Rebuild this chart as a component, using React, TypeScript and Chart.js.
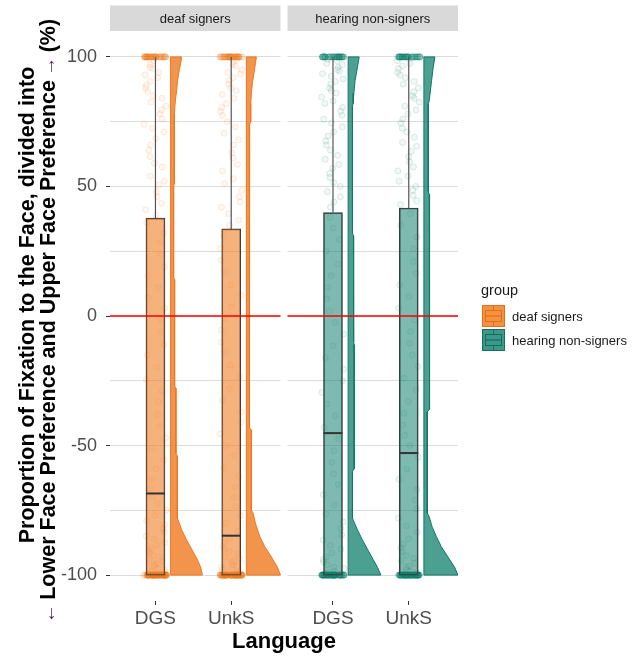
import React, { useEffect, useRef } from 'react';
import { Chart, registerables } from 'chart.js';

Chart.register(...registerables);

// ---------------- data ----------------
const GROUPS = ['deaf signers', 'hearing non-signers'];
const LANGUAGES = ['DGS', 'UnkS'];
const Y_MAJOR = [-100, -50, 0, 50, 100];
const Y_GRID = [-100, -75, -50, -25, 0, 25, 50, 75, 100];
const REF_LINE = 0;

// boxplot stats: [lower whisker, q1, median, q3, upper whisker]
const BOX_DEAF_DGS = [-100, -100, -68.5, 37.8, 100];
const BOX_DEAF_UNKS = [-100, -100, -84.8, 33.6, 100];
const BOX_HEAR_DGS = [-100, -100, -45.2, 39.9, 100];
const BOX_HEAR_UNKS = [-100, -100, -52.9, 41.7, 100];

// number of observations exactly at the ceiling (100) and floor (-100)
const CEIL_DEAF_DGS = 60;
const FLOOR_DEAF_DGS = 130;
const CEIL_DEAF_UNKS = 60;
const FLOOR_DEAF_UNKS = 135;
const CEIL_HEAR_DGS = 64;
const FLOOR_HEAR_DGS = 120;
const CEIL_HEAR_UNKS = 64;
const FLOOR_HEAR_UNKS = 125;

// observations strictly between the floor and the ceiling
const PTS_DEAF_DGS = [
  98.5, 97, 96, 95.5, 94, 93, 92, 90.5, 89, 88, 86.5, 85, 84, 82.5, 81, 79.5, 78, 76, 74, 72.5, 71, 68.5, 66, 64,
  61.5, 59, 57.5, 54, 52, 50.5, 48, 46, 43.5, 41, 39, 36, 32, 28.5, 24, 19, 15.5, 11, 7, 3, -1.5, -6, -11, -15, -20,
  -24.5, -29, -33, -38, -42.5, -47, -51, -55.5, -59, -63, -66.5, -70, -72.5, -75, -77, -79, -80.5, -82, -83.5, -85,
  -86, -87.5, -88.5, -89.5, -90.5, -91.5, -92.5, -93, -94, -94.5, -95.5, -96, -96.5, -97.5, -98, -98.5, -99, -99.5,
];
const PTS_DEAF_UNKS = [
  99, 98, 97, 96.5, 95, 94, 93.5, 92, 91, 89.5, 88, 87, 85.5, 84, 82, 80.5, 79, 77.5, 75, 73, 70.5, 68, 66, 63, 61,
  58.5, 56, 53, 51, 48.5, 46, 44, 42, 39.5, 37, 35, 31, 26, 21.5, 17, 12, 8, 3.5, -1, -5.5, -10, -14, -19, -23.5, -28,
  -32.5, -37, -41, -45.5, -50, -54, -58.5, -62, -66, -70, -73.5, -77, -80, -83, -86, -87.5, -89, -90, -91, -92, -93,
  -93.5, -94.5, -95, -96, -96.5, -97, -97.5, -98, -98.5, -99, -99.5,
];
const PTS_HEAR_DGS = [
  99, 98.5, 97.5, 97, 96, 95, 94.5, 93.5, 92.5, 91.5, 90.5, 89.5, 88, 87, 86, 84.5, 83, 82, 80.5, 79, 77.5, 76, 74.5,
  73, 71, 69.5, 67.5, 66, 64, 62, 60.5, 58.5, 57, 55, 53.5, 51.5, 50, 48, 46, 44, 42, 38, 34, 29.5, 25, 20, 15.5, 11,
  6.5, 2, -2.5, -7, -11.5, -16, -20.5, -25, -29.5, -34, -38.5, -43, -47.5, -52, -56.5, -61, -65, -69, -73, -76.5,
  -79.5, -82, -84.5, -86.5, -88.5, -90, -91.5, -93, -94, -95, -96, -97, -97.5, -98.5, -99, -99.5,
];
const PTS_HEAR_UNKS = [
  99.5, 98.5, 97.5, 96.5, 95.5, 94, 93, 92, 90.5, 89.5, 88, 86.5, 85, 84, 82.5, 81, 79.5, 78, 76, 74.5, 72.5, 71, 69,
  67, 65.5, 63.5, 61.5, 59.5, 57.5, 56, 54, 52, 50, 48.5, 46.5, 44.5, 43, 39.5, 35, 30.5, 26, 21, 16.5, 12, 7.5, 3,
  -1.5, -6, -10.5, -15, -19.5, -24, -28.5, -33, -37.5, -42, -46, -50, -54.5, -59, -63, -67, -71, -74.5, -78, -81,
  -83.5, -86, -88, -89.5, -91, -92.5, -93.5, -94.5, -95.5, -96.5, -97, -98, -98.5, -99, -99.5,
];

// half-violin density outline: [value, density]
const VIOLIN_DEAF_DGS = [
  [100, 11], [97.5, 10], [95, 8.7], [91, 7], [87, 6], [83, 4.7], [78, 3.7], [51, 3.7], [50, 3], [15, 3], [14, 4],
  [-27, 4], [-28, 5.3], [-53, 5.3], [-54, 6.7], [-78, 6.7], [-80, 8.7], [-82.5, 11], [-86.5, 16], [-90, 21],
  [-94, 26.7], [-97, 30], [-100, 31.7],
];
const VIOLIN_DEAF_UNKS = [
  [100, 10], [97.5, 9], [94, 7.7], [90, 6], [86, 5], [82, 4.3], [75, 4.3], [74, 3.3], [17, 3.3], [16, 2.7], [1, 2.7],
  [0, 3.3], [-43, 3.3], [-44, 5], [-75, 5], [-76, 6.7], [-80, 9], [-85, 13.3], [-89, 18.3], [-93, 25], [-97, 31],
  [-100, 34],
];
const VIOLIN_HEAR_DGS = [
  [100, 11], [96, 9.3], [91, 7], [86, 5.7], [82, 5], [81, 4.3], [32, 4.3], [31, 5.3], [-10, 5.5], [-11, 6], [-59, 6],
  [-60, 4.3], [-78, 4.3], [-79, 5.3], [-82.5, 9.3], [-86.5, 14.3], [-90, 19.3], [-94, 25], [-97, 29.3], [-100, 32.7],
];
const VIOLIN_HEAR_UNKS = [
  [100, 11], [96, 9.3], [91, 7.7], [83, 5.3], [82, 4.3], [48, 4.3], [47, 5.3], [2, 5.5], [1, 5.7], [-36, 5.7],
  [-37, 3.3], [-76, 3.3], [-77.5, 5.3], [-81.5, 8.3], [-85, 12.3], [-89, 17.3], [-93, 24], [-97, 30.7], [-100, 34],
];

// ---------------- layout / style ----------------
const FONT = "'Liberation Sans', Arial, Helvetica, sans-serif";
const PANEL_MIN = 0.4;
const PANEL_MAX = 2.65;
const PANEL_SHIFT = 2.343;
const X_MIN = PANEL_MIN;
const X_MAX = PANEL_MAX + PANEL_SHIFT;
const JITTER = 0.15;
const VIOLIN_GAP = 0.2;
const VIOLIN_SCALE = 1 / 75.6;
const BOX_HALF = 0.125;

const COLORS = [
  { rgb: '240,125,35', violin: 'rgba(240,130,45,0.86)', edge: 'rgb(238,118,28)', box: 'rgba(240,130,45,0.62)', key: 'rgb(242,146,66)', keyEdge: 'rgb(226,110,24)' },
  { rgb: '18,128,110', violin: 'rgba(20,130,112,0.76)', edge: 'rgb(16,120,102)', box: 'rgba(22,130,112,0.55)', key: 'rgb(62,152,137)', keyEdge: 'rgb(18,112,96)' },
];

const SERIES = [
  { panel: 0, cat: 0, box: BOX_DEAF_DGS, pts: PTS_DEAF_DGS, ceil: CEIL_DEAF_DGS, floor: FLOOR_DEAF_DGS, violin: VIOLIN_DEAF_DGS },
  { panel: 0, cat: 1, box: BOX_DEAF_UNKS, pts: PTS_DEAF_UNKS, ceil: CEIL_DEAF_UNKS, floor: FLOOR_DEAF_UNKS, violin: VIOLIN_DEAF_UNKS },
  { panel: 1, cat: 0, box: BOX_HEAR_DGS, pts: PTS_HEAR_DGS, ceil: CEIL_HEAR_DGS, floor: FLOOR_HEAR_DGS, violin: VIOLIN_HEAR_DGS },
  { panel: 1, cat: 1, box: BOX_HEAR_UNKS, pts: PTS_HEAR_UNKS, ceil: CEIL_HEAR_UNKS, floor: FLOOR_HEAR_UNKS, violin: VIOLIN_HEAR_UNKS },
];

const X_TICKS = SERIES.map((s) => s.cat + 1 + s.panel * PANEL_SHIFT);

// deterministic horizontal jitter offset in [-1, 1] for the i-th point
function jitter(i: number, k: number): number {
  const t = (i + 1) * 0.7548776662 + (i + 1) * (i + 1) * 0.5698402910 + k * 0.3183;
  return (t - Math.floor(t)) * 2 - 1;
}

function buildDatasets(): any[] {
  const ds: any[] = [];
  SERIES.forEach((s, k) => {
    const c = COLORS[s.panel];
    const cx = s.cat + 1 + s.panel * PANEL_SHIFT;
    const values = [
      ...new Array(s.ceil).fill(100),
      ...s.pts,
      ...new Array(s.floor).fill(-100),
    ];
    ds.push({
      type: 'scatter',
      order: 6,
      data: values.map((v, i) => ({ x: cx + jitter(i, k) * JITTER, y: v })),
      pointRadius: 3,
      pointBorderWidth: 0.8,
      backgroundColor: `rgba(${c.rgb},0.06)`,
      borderColor: `rgba(${c.rgb},0.18)`,
      pointHoverRadius: 0,
    });
    const base = cx + VIOLIN_GAP;
    const outline = s.violin.map(([v, d]) => ({ x: base + d * VIOLIN_SCALE, y: v }));
    const first = s.violin[0][0];
    const last = s.violin[s.violin.length - 1][0];
    ds.push({
      type: 'line',
      order: 5,
      data: [{ x: base, y: first }, ...outline, { x: base, y: last }, { x: base, y: first }],
      fill: 'shape',
      backgroundColor: c.violin,
      borderColor: c.edge,
      borderWidth: 1,
      pointRadius: 0,
      tension: 0,
    });
    ds.push({
      type: 'line',
      order: 4,
      data: [{ x: cx, y: s.box[3] }, { x: cx, y: s.box[4] }],
      borderColor: '#555555',
      borderWidth: 1.2,
      pointRadius: 0,
      fill: false,
    });
    ds.push({
      type: 'line',
      order: 2,
      data: [{ x: cx - BOX_HALF, y: s.box[2] }, { x: cx + BOX_HALF, y: s.box[2] }],
      borderColor: '#333333',
      borderWidth: 2,
      pointRadius: 0,
      fill: false,
    });
  });
  ds.push({
    type: 'bar',
    order: 3,
    data: SERIES.map((s) => ({ x: s.cat + 1 + s.panel * PANEL_SHIFT, y: [s.box[1], s.box[3]] })),
    backgroundColor: SERIES.map((s) => COLORS[s.panel].box),
    borderColor: '#3a3a3a',
    borderWidth: 1,
    borderSkipped: false,
    barThickness: 19,
  });
  [0, 1].forEach((p) => {
    ds.push({
      type: 'line',
      order: 1,
      data: [{ x: PANEL_MIN + p * PANEL_SHIFT, y: REF_LINE }, { x: PANEL_MAX + p * PANEL_SHIFT, y: REF_LINE }],
      borderColor: '#ff0000',
      borderWidth: 1.3,
      pointRadius: 0,
      fill: false,
    });
  });
  return ds;
}

const gapPlugin = {
  id: 'panelGap',
  beforeDatasetsDraw(chart: any) {
    const { ctx, chartArea, scales } = chart;
    const x1 = scales.x.getPixelForValue(PANEL_MAX);
    const x2 = scales.x.getPixelForValue(PANEL_MIN + PANEL_SHIFT);
    ctx.save();
    ctx.fillStyle = '#ffffff';
    ctx.fillRect(x1, chartArea.top - 1, x2 - x1, chartArea.bottom - chartArea.top + 2);
    ctx.restore();
  },
};

const stripPlugin = {
  id: 'strips',
  afterDraw(chart: any) {
    const { ctx, chartArea, scales } = chart;
    GROUPS.forEach((g, p) => {
      const x1 = scales.x.getPixelForValue(PANEL_MIN + p * PANEL_SHIFT);
      const x2 = scales.x.getPixelForValue(PANEL_MAX + p * PANEL_SHIFT);
      const top = chartArea.top - 25.5;
      ctx.save();
      ctx.fillStyle = '#d9d9d9';
      ctx.fillRect(x1, top, x2 - x1, 25.5);
      ctx.fillStyle = '#1a1a1a';
      ctx.font = `13px ${FONT}`;
      ctx.textAlign = 'center';
      ctx.textBaseline = 'middle';
      ctx.fillText(g, (x1 + x2) / 2, top + 13.5);
      ctx.restore();
    });
  },
};

function LegendKey({ fill, edge }: { fill: string; edge: string }) {
  return (
    <svg width={24} height={23} style={{ display: 'block' }}>
      <rect x={0.5} y={0.5} width={22} height={21} fill={fill} stroke={edge} strokeWidth={1} />
      <line x1={11.5} y1={1} x2={11.5} y2={5.5} stroke={edge} strokeWidth={1} />
      <rect x={3.5} y={5.5} width={16} height={11} fill="none" stroke={edge} strokeWidth={1} />
      <line x1={3.5} y1={11} x2={19.5} y2={11} stroke={edge} strokeWidth={1.2} />
      <line x1={11.5} y1={16.5} x2={11.5} y2={21} stroke={edge} strokeWidth={1} />
    </svg>
  );
}

const titleLine = (cx: number, cy: number): React.CSSProperties => ({
  position: 'absolute',
  left: cx,
  top: cy,
  transform: 'translate(-50%, -50%) rotate(-90deg)',
  whiteSpace: 'nowrap',
  font: `bold 21.5px ${FONT}`,
  lineHeight: '22px',
  color: '#000000',
});

export default function App() {
  const ref = useRef<HTMLCanvasElement>(null);

  useEffect(() => {
    const canvas = ref.current;
    if (!canvas) return;
    const chart = new Chart(canvas, {
      type: 'line',
      data: { datasets: buildDatasets() },
      options: {
        animation: false,
        responsive: false,
        maintainAspectRatio: false,
        devicePixelRatio: 1,
        events: [],
        layout: { padding: { left: 0, top: 31, right: 180, bottom: 0 } },
        plugins: { legend: { display: false }, tooltip: { enabled: false } },
        scales: {
          x: {
            type: 'linear',
            min: X_MIN,
            max: X_MAX,
            offset: false,
            afterBuildTicks: (s: any) => {
              s.ticks = X_TICKS.map((v) => ({ value: v }));
            },
            afterFit: (s: any) => {
              s.height = 56;
            },
            ticks: {
              autoSkip: false,
              maxRotation: 0,
              callback: (_v: any, i: number) => LANGUAGES[i % 2],
              color: '#4d4d4d',
              font: { family: FONT, size: 19 },
              padding: 2,
            },
            grid: { drawOnChartArea: false, drawTicks: true, tickLength: 4, tickColor: '#333333', offset: false },
            border: { display: false },
            title: {
              display: true,
              text: 'Language',
              color: '#000000',
              font: { family: FONT, size: 22, weight: 'bold' },
              padding: { top: 0, bottom: 2 },
            },
          },
          y: {
            type: 'linear',
            min: -110,
            max: 110,
            afterBuildTicks: (s: any) => {
              s.ticks = Y_GRID.map((v) => ({ value: v }));
            },
            afterFit: (s: any) => {
              s.width = 110;
            },
            ticks: {
              autoSkip: false,
              callback: (v: any) => (Y_MAJOR.includes(v) ? String(v) : ''),
              color: '#4d4d4d',
              font: { family: FONT, size: 18 },
              padding: 9,
            },
            grid: {
              color: '#dcdcdc',
              lineWidth: 1,
              tickLength: 4,
              tickColor: (ctx: any) => (ctx.tick && Y_MAJOR.includes(ctx.tick.value) ? '#333333' : 'rgba(0,0,0,0)'),
            },
            border: { display: false },
          },
        },
      } as any,
      plugins: [gapPlugin, stripPlugin],
    });
    return () => chart.destroy();
  }, []);

  const arrow: React.CSSProperties = { color: '#4b2a63', fontSize: 19 };

  return (
    <div style={{ position: 'fixed', left: 0, top: 0, width: 638, height: 657, background: '#ffffff', overflow: 'hidden' }}>
      <canvas ref={ref} width={638} height={657} style={{ position: 'absolute', left: 0, top: 0, width: 638, height: 657 }} />
      <div style={titleLine(27, 305)}>Proportion of Fixation to the Face, divided into</div>
      <div style={titleLine(48, 321)}>
        <span style={arrow}>←</span>{'\u2009'}Lower Face Preference and Upper Face Preference{'\u2009'}<span style={arrow}>→</span>{'\u2009'}(%)
      </div>
      <div style={{ position: 'absolute', left: 481, top: 282, font: `14.5px ${FONT}`, color: '#1a1a1a' }}>group</div>
      {GROUPS.map((g, i) => (
        <div key={g} style={{ position: 'absolute', left: 482, top: 305 + i * 24, display: 'flex', alignItems: 'center' }}>
          <LegendKey fill={COLORS[i].key} edge={COLORS[i].keyEdge} />
          <span style={{ marginLeft: 6, font: `13px ${FONT}`, color: '#1a1a1a' }}>{g}</span>
        </div>
      ))}
    </div>
  );
}
